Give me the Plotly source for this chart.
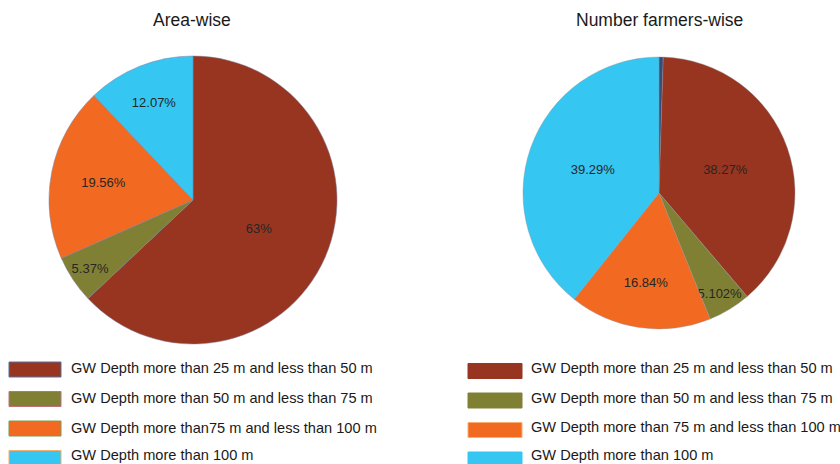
import plotly.graph_objects as go

# ---------------- data ----------------
categories = [
    "GW Depth more than 25 m and less than 50 m",
    "GW Depth more than 50 m and less than 75 m",
    "GW Depth more than 75 m and less than 100 m",
    "GW Depth more than 100 m",
]
legend_left_labels = [
    "GW Depth more than 25 m and less than 50 m",
    "GW Depth more than 50 m and less than 75 m",
    "GW Depth more than75 m and less than 100 m",
    "GW Depth more than 100 m",
]
legend_right_labels = [
    "GW Depth more than 25 m and less than 50 m",
    "GW Depth more than 50 m and less than 75 m",
    "GW Depth more than 75 m and less than 100 m",
    "GW Depth more than 100 m",
]
area_values = [63, 5.37, 19.56, 12.07]
area_text = ["63%", "5.37%", "19.56%", "12.07%"]

farmer_labels = ["Other"] + categories
farmer_values = [0.5, 38.27, 5.102, 16.84, 39.29]
farmer_text = ["", "38.27%", "5.102%", "16.84%", "39.29%"]

colors = ["#983520", "#808035", "#F26A21", "#35C6F2"]
other_color = "#3C4A78"
titles = ["Area-wise", "Number farmers-wise"]

W, H = 840, 464
FONT = "Liberation Sans, Arial, sans-serif"


def px(x):
    return x / W


def py(y):
    return 1 - y / H


fig = go.Figure()

fig.add_trace(go.Pie(
    labels=categories, values=area_values, text=area_text,
    textinfo="text", textposition="inside", insidetextorientation="horizontal",
    sort=False, direction="clockwise", rotation=0,
    marker=dict(colors=colors, line=dict(color="#7a7fa0", width=0.5)),
    textfont=dict(family=FONT, size=13, color="#262626"),
    domain=dict(x=[px(49), px(337)], y=[py(344), py(56)]),
    showlegend=False, hoverinfo="skip",
))

fig.add_trace(go.Pie(
    labels=farmer_labels, values=farmer_values, text=farmer_text,
    textinfo="text", textposition=["none", "inside", "inside", "inside", "inside"],
    insidetextorientation="horizontal",
    sort=False, direction="clockwise", rotation=0,
    marker=dict(colors=[other_color] + colors, line=dict(color="#8a8f9a", width=0.4)),
    textfont=dict(family=FONT, size=13, color="#262626"),
    domain=dict(x=[px(523), px(795)], y=[py(329), py(57)]),
    showlegend=False, hoverinfo="skip",
))

annotations = []
shapes = []

# titles
for t, xc in zip(titles, [192, 659]):
    annotations.append(dict(
        text=t, x=px(xc), y=py(20), xref="paper", yref="paper",
        xanchor="center", yanchor="middle", showarrow=False,
        font=dict(family=FONT, size=17.5, color="#1a1a1a"),
    ))

# custom legends
left_borders = ["#5570a0", "#c0707a", "#7a9a50", "#f0b070"]
left_text_y = [368, 398, 428, 455]
for i, (lab, c) in enumerate(zip(legend_left_labels, colors)):
    yc = 369.5 + i * 29.5
    shapes.append(dict(
        type="rect", xref="paper", yref="paper",
        x0=px(9), x1=px(61), y0=py(yc + 7.5), y1=py(yc - 7.5),
        fillcolor=c, line=dict(color=left_borders[i], width=1),
    ))
    annotations.append(dict(
        text=lab, x=px(69), y=py(left_text_y[i]), xref="paper", yref="paper",
        xanchor="left", yanchor="middle", showarrow=False,
        font=dict(family=FONT, size=14.6, color="#1a1a1a"),
    ))

right_borders = [colors[0], colors[1], "#f8b070", colors[3]]
right_text_y = [368, 398, 427, 455]
for i, (lab, c) in enumerate(zip(legend_right_labels, colors)):
    yc = 371 + i * 29.5
    shapes.append(dict(
        type="rect", xref="paper", yref="paper",
        x0=px(468), x1=px(522), y0=py(yc + 7.5), y1=py(yc - 7.5),
        fillcolor=c, line=dict(color=right_borders[i], width=1),
    ))
    annotations.append(dict(
        text=lab, x=px(529), y=py(right_text_y[i]), xref="paper", yref="paper",
        xanchor="left", yanchor="middle", showarrow=False,
        font=dict(family=FONT, size=14.6, color="#1a1a1a"),
    ))

fig.update_layout(
    width=W, height=H,
    margin=dict(l=0, r=0, t=0, b=0),
    paper_bgcolor="white", plot_bgcolor="white",
    annotations=annotations, shapes=shapes,
    showlegend=False,
    uniformtext=dict(minsize=13, mode="show"),
)

fig.write_html(
    "out.html",
    config={"displayModeBar": False},
    post_script="document.body.style.margin='0';document.body.style.padding='0';",
)
